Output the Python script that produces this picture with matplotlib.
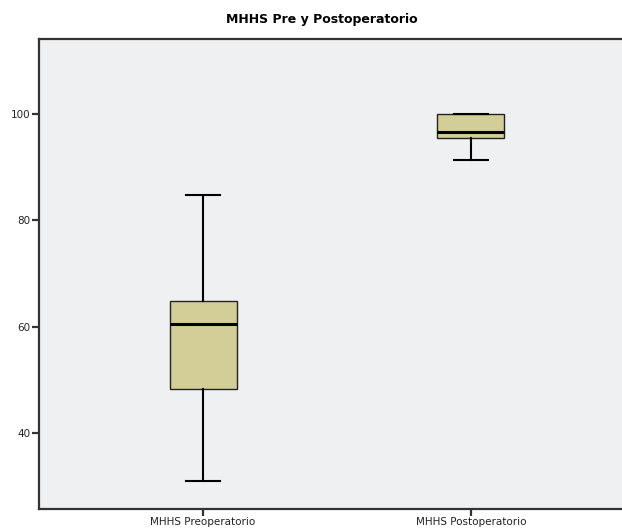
import numpy as np
import matplotlib.pyplot as plt
from matplotlib import font_manager

# Box statistics
labels = ["MHHS Preoperatorio", "MHHS Postoperatorio"]
whislo = [30.8, 91.3]
q1 = [48.3, 95.6]
med = [60.5, 96.7]
q3 = [64.8, 100.0]
whishi = [84.7, 100.0]

stats = []
for i in range(len(labels)):
    stats.append(dict(label=labels[i], whislo=whislo[i], q1=q1[i], med=med[i],
                      q3=q3[i], whishi=whishi[i], fliers=[]))

fig = plt.figure(figsize=(6.22, 5.28), dpi=100)
ax = fig.add_axes([39/622, 19/528, 596/622, 470/528])
ax.set_facecolor('#eef0f2')

ax.bxp(stats, positions=[0, 1], widths=0.25, patch_artist=True,
       boxprops=dict(facecolor='#d3ce97', edgecolor='#222222', linewidth=1),
       medianprops=dict(color='black', linewidth=2.2),
       whiskerprops=dict(color='black', linewidth=1.5),
       capprops=dict(color='black', linewidth=1.5),
       capwidths=0.125)

ax.set_xlim(-0.612, 1.612)
ax.set_ylim(25.6, 114.2)
ax.set_yticks([40, 60, 80, 100])
ax.set_xticks([0, 1])
ax.set_xticklabels(labels)

for s in ['left', 'bottom', 'top']:
    ax.spines[s].set_linewidth(1.6)
    ax.spines[s].set_color('#333333')
ax.spines['right'].set_visible(False)
ax.tick_params(axis='both', length=5, width=1.6, color='#333333',
               labelsize=7.5, labelcolor='#222222', pad=1)

# condensed face if it is there, otherwise plain DejaVu Sans
names = set(f.name for f in font_manager.fontManager.ttflist)
if 'DejaVu Sans Condensed' in names:
    tfam, tsize = 'DejaVu Sans Condensed', 10.5
else:
    tfam, tsize = 'DejaVu Sans', 9
fig.text(322/622, 1 - 20/528, "MHHS Pre y Postoperatorio", ha='center', va='center',
         fontsize=tsize, fontweight='bold', family=tfam)

fig.savefig('out.png', dpi=100)
